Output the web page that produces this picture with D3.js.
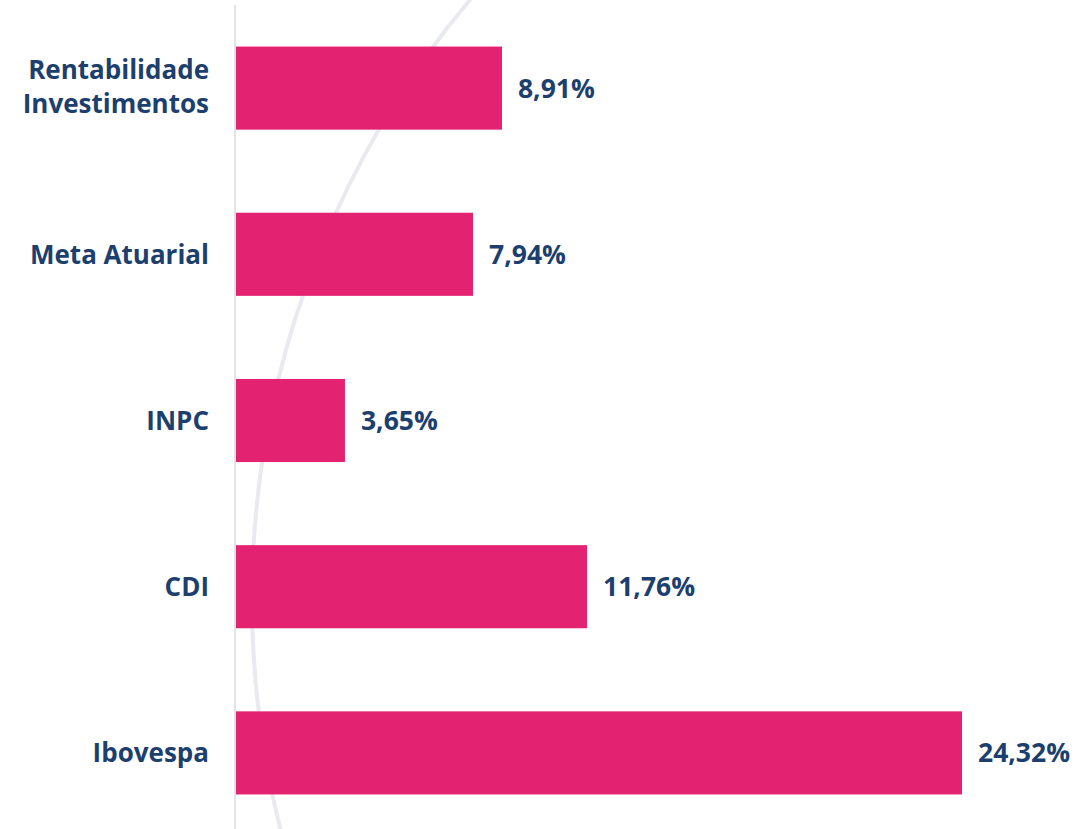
<!DOCTYPE html>
<html>
<head>
<meta charset="utf-8">
<script src="https://cdn.jsdelivr.net/npm/d3@7"></script>
<style>
  html, body { margin: 0; padding: 0; background: #fff; }
  svg { display: block; }
</style>
</head>
<body>
<div id="chart"></div>
<script>
// categories and values (%)
const categories = [["Rentabilidade", "Investimentos"], ["Meta Atuarial"], ["INPC"], ["CDI"], ["Ibovespa"]];
const values = [8.91, 7.94, 3.65, 11.76, 24.32];
const valueLabels = ["8,91%", "7,94%", "3,65%", "11,76%", "24,32%"];

const width = 1076, height = 829;
const left = 236;
const barColor = "#e42272";
const textColor = "#1d3f6e";
const font = "'Open Sans', Lato, sans-serif";

const svg = d3.select("#chart").append("svg")
    .attr("width", width)
    .attr("height", height);

// decorative background arc
svg.append("circle")
    .attr("cx", 1187).attr("cy", 600).attr("r", 935)
    .attr("fill", "none")
    .attr("stroke", "#e8eaef")
    .attr("stroke-width", 4);

const x = d3.scaleLinear().domain([0, 24.32]).range([left, 962]);
const y = d3.scaleBand()
    .domain(d3.range(categories.length))
    .range([5, 836])
    .paddingInner(0.5)
    .paddingOuter(0.25);

// vertical axis line
svg.append("line")
    .attr("x1", left - 1).attr("x2", left - 1)
    .attr("y1", 5).attr("y2", height)
    .attr("stroke", "#e3e3e3")
    .attr("stroke-width", 2);

svg.selectAll("rect.bar")
    .data(values)
    .join("rect")
    .attr("class", "bar")
    .attr("x", x(0))
    .attr("y", (d, i) => y(i))
    .attr("width", d => x(d) - x(0))
    .attr("height", y.bandwidth())
    .attr("fill", barColor);

// value labels
svg.selectAll("text.val")
    .data(values)
    .join("text")
    .attr("class", "val")
    .attr("x", d => x(d) + 16)
    .attr("y", (d, i) => y(i) + y.bandwidth() / 2)
    .attr("dy", "0.36em")
    .attr("fill", textColor)
    .style("font-family", font)
    .style("font-weight", 700)
    .style("font-size", "26.5px")
    .text((d, i) => valueLabels[i]);

// category labels, multi-line ones one tspan per line
const cat = svg.selectAll("text.cat")
    .data(categories)
    .join("text")
    .attr("class", "cat")
    .attr("text-anchor", "end")
    .attr("fill", textColor)
    .style("font-family", font)
    .style("font-weight", 700)
    .style("font-size", "26px")
    .attr("transform", (d, i) => `translate(209,${y(i) + y.bandwidth() / 2 - (d.length > 1 ? 1.5 : 0)})`);

cat.selectAll("tspan")
    .data(d => d.map((t, j) => ({ t, j, n: d.length })))
    .join("tspan")
    .attr("x", 0)
    .attr("y", d => (d.j - (d.n - 1) / 2) * 34)
    .attr("dy", "0.36em")
    .text(d => d.t);
</script>
</body>
</html>
